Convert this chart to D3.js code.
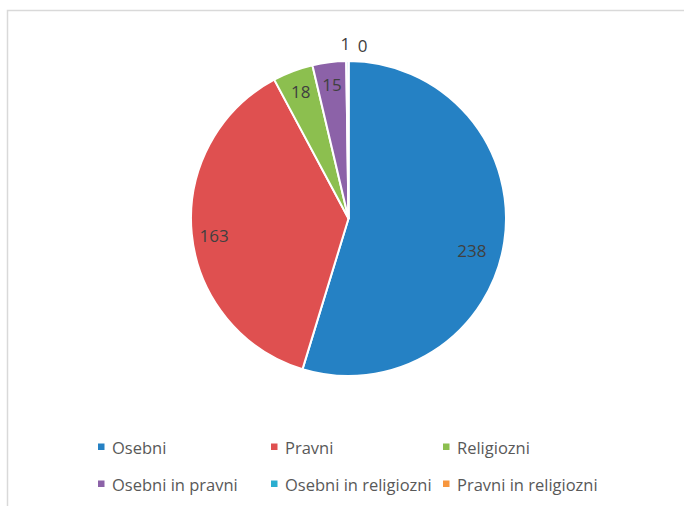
<!DOCTYPE html>
<html>
<head>
<meta charset="utf-8">
<script src="https://cdn.jsdelivr.net/npm/d3@7"></script>
<style>
  html, body { margin: 0; padding: 0; background: #fff; }
  svg { display: block; }
  text { font-family: "Open Sans", Lato, sans-serif; }
</style>
</head>
<body>
<svg id="chart" width="684" height="506"></svg>
<script>
// Categories and counts
const categories = ["Osebni", "Pravni", "Religiozni", "Osebni in pravni", "Osebni in religiozni", "Pravni in religiozni"];
const values = [238, 163, 18, 15, 1, 0];
const colors = ["#2581c4", "#df5050", "#8cbf4f", "#8c62a8", "#2aaed0", "#f7963e"];

const width = 684, height = 506;
const cx = 348.5, cy = 218.5, R = 157.5;

const svg = d3.select("#chart");

// chart area frame
svg.append("rect")
  .attr("x", 7.5).attr("y", 10.5)
  .attr("width", 700).attr("height", 520)
  .attr("fill", "none")
  .attr("stroke", "#d9d9d9")
  .attr("stroke-width", 1.5);

const pie = d3.pie().sort(null).value(d => d)(values);
const arc = d3.arc().innerRadius(0).outerRadius(R);

const g = svg.append("g").attr("transform", `translate(${cx},${cy})`);

g.selectAll("path.slice")
  .data(pie)
  .join("path")
  .attr("class", "slice")
  .attr("d", arc)
  .attr("fill", (d, i) => colors[i])
  .attr("stroke", "#fff")
  .attr("stroke-width", 2)
  .attr("stroke-linejoin", "round");

// label placement: inside for regular slices, just outside the rim for tiny ones
const angleNudge = [0.105, -0.025, 0, 0, 0, 0];
const radiusNudge = [0.94, 1, 1, 1, 1, 1];
const outsideDx = [0, 0, 0, 0, -2, 14];

g.selectAll("text.val")
  .data(pie)
  .join("text")
  .attr("class", "val")
  .attr("text-anchor", "middle")
  .attr("dominant-baseline", "central")
  .attr("font-size", 17)
  .attr("fill", "#404040")
  .attr("transform", (d, i) => {
    const a = (d.startAngle + d.endAngle) / 2 + angleNudge[i];
    if (d.value <= 1) {
      const r = R + 17;
      return `translate(${Math.sin(a) * r + outsideDx[i]},${-Math.cos(a) * r - (i === 4 ? 1 : -1)})`;
    }
    const r = R * 0.86 * radiusNudge[i];
    return `translate(${Math.sin(a) * r},${-Math.cos(a) * r})`;
  })
  .text(d => d.value);

// legend
const colX = [112, 285, 457];
const rowY = [447, 484];
const legend = svg.append("g");
categories.forEach((c, i) => {
  const x = colX[i % 3], y = rowY[Math.floor(i / 3)];
  legend.append("rect")
    .attr("x", x - 14).attr("y", y - 3.5)
    .attr("width", 6.5).attr("height", 6.5)
    .attr("fill", colors[i]);
  legend.append("text")
    .attr("x", x).attr("y", y)
    .attr("dominant-baseline", "central")
    .attr("font-size", 16.5)
    .attr("fill", "#595959")
    .text(c);
});
</script>
</body>
</html>
